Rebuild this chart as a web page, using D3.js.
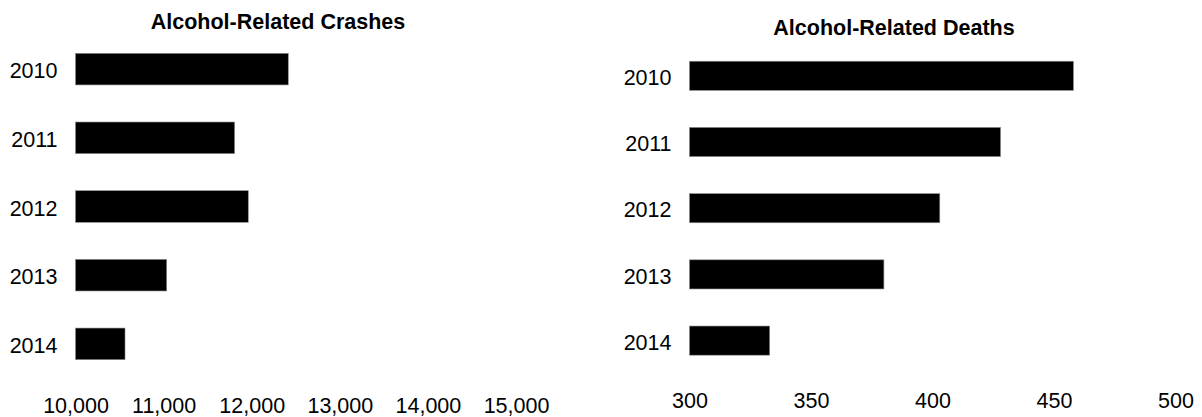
<!DOCTYPE html>
<html>
<head>
<meta charset="utf-8">
<script src="https://cdn.jsdelivr.net/npm/d3@7"></script>
<style>
  html, body { margin: 0; padding: 0; background: #fff; }
  svg { display: block; }
  text { font-family: "Liberation Sans", Arial, Helvetica, sans-serif; fill: #000; }
</style>
</head>
<body>
<svg id="chart" width="1202" height="417"></svg>
<script>
const years = ["2010", "2011", "2012", "2013", "2014"];
const crashes = [12415, 11806, 11961, 11035, 10562];
const deaths = [458, 428, 403, 380, 333];
const crashTicks = [10000, 11000, 12000, 13000, 14000, 15000];
const deathTicks = [300, 350, 400, 450, 500];
const crashTitle = "Alcohol-Related Crashes";
const deathTitle = "Alcohol-Related Deaths";

const svg = d3.select("#chart");

function panel(cfg) {
  const g = svg.append("g");
  const x = d3.scaleLinear().domain(cfg.domain).range(cfg.xRange);
  const y = d3.scaleBand().domain(years).range(cfg.yRange)
    .paddingInner(cfg.padIn).paddingOuter(cfg.padIn / 2);

  g.selectAll("rect.bar")
    .data(years.map((yr, i) => ({ yr, v: cfg.values[i] })))
    .enter().append("rect")
    .attr("class", "bar")
    .attr("x", x(cfg.domain[0]))
    .attr("y", d => y(d.yr))
    .attr("width", d => x(d.v) - x(cfg.domain[0]))
    .attr("height", y.bandwidth())
    .attr("fill", "#000")
    .attr("stroke", "#8a8a8a")
    .attr("stroke-width", 0.6);

  const yAxis = g.append("g")
    .attr("transform", `translate(${x(cfg.domain[0])},0)`)
    .call(d3.axisLeft(y).tickSize(0).tickPadding(18));
  yAxis.select(".domain").remove();
  yAxis.selectAll("text")
    .attr("dy", "0.43em")
    .style("font-size", "21.5px")
    .style("font-family", '"Liberation Sans", Arial, sans-serif');

  const xAxis = g.append("g")
    .attr("transform", `translate(0,${cfg.axisY})`)
    .call(d3.axisBottom(x).tickValues(cfg.ticks).tickSize(0).tickPadding(0)
      .tickFormat(d3.format(cfg.fmt)));
  xAxis.select(".domain").remove();
  xAxis.selectAll("text")
    .style("font-size", "21.5px")
    .style("font-family", '"Liberation Sans", Arial, sans-serif');

  g.append("text")
    .attr("x", cfg.titleX)
    .attr("y", cfg.titleY)
    .attr("text-anchor", "middle")
    .style("font-size", "21.5px")
    .style("font-weight", "bold")
    .text(cfg.title);
}

panel({
  values: crashes,
  domain: [10000, 15000],
  xRange: [75.5, 516],
  yRange: [34.8, 378.2],
  padIn: 0.54,
  ticks: crashTicks,
  fmt: ",",
  axisY: 398,
  title: crashTitle,
  titleX: 278,
  titleY: 28.5
});

panel({
  values: deaths,
  domain: [300, 500],
  xRange: [689.5, 1175.5],
  yRange: [42.7, 373.7],
  padIn: 0.56,
  ticks: deathTicks,
  fmt: "d",
  axisY: 393,
  title: deathTitle,
  titleX: 894,
  titleY: 34.5
});
</script>
</body>
</html>
